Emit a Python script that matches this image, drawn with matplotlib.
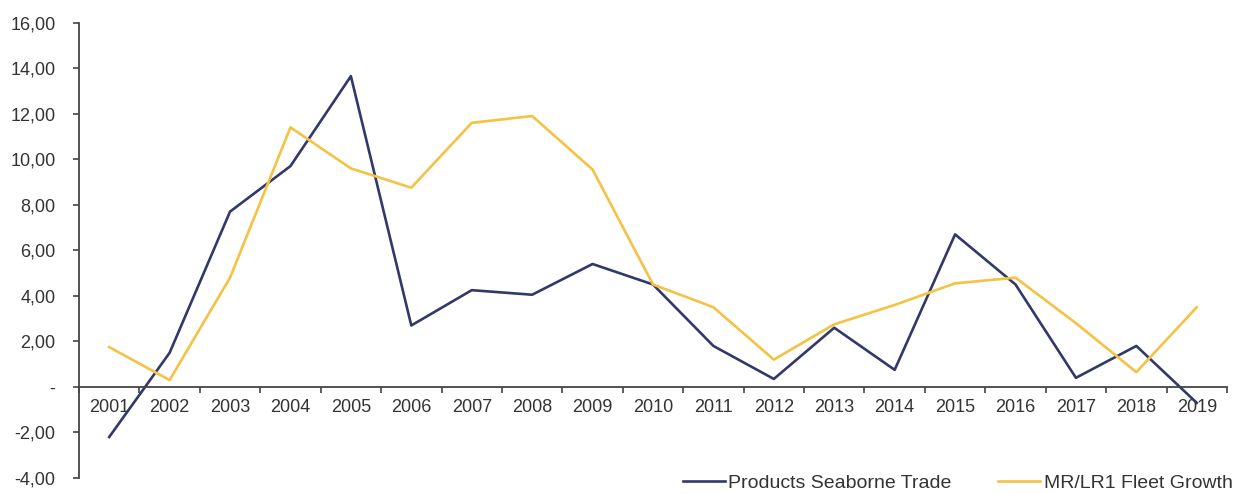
import matplotlib.pyplot as plt
from matplotlib.ticker import FixedLocator, NullFormatter

plt.rcParams['font.family'] = ['Liberation Sans', 'DejaVu Sans']

years = [str(y) for y in range(2001, 2020)]

seaborne_trade = [-2.2, 1.5, 7.7, 9.7, 13.65, 2.7, 4.25, 4.05, 5.4, 4.5,
                  1.8, 0.35, 2.6, 0.75, 6.7, 4.5, 0.4, 1.8, -0.7]
fleet_growth = [1.75, 0.3, 4.8, 11.4, 9.6, 8.75, 11.6, 11.9, 9.55, 4.5,
                3.5, 1.2, 2.75, 3.6, 4.55, 4.8, 2.8, 0.65, 3.5]

navy = '#33386a'
gold = '#f4c244'
axis_col = '#444444'
text_col = '#333333'

fig = plt.figure(figsize=(12.4, 4.94), dpi=100)
ax = fig.add_axes([0.0637, 0.0324, 0.9258, 0.9217])

x = list(range(len(years)))
ax.plot(x, seaborne_trade, color=navy, lw=1.9, label='Products Seaborne Trade')
ax.plot(x, fleet_growth, color=gold, lw=1.9, label='MR/LR1 Fleet Growth')

ax.set_xlim(-0.5, len(years) - 0.5)
ax.set_ylim(-4, 16)

# category axis crosses at zero, ticks between categories
ax.spines['bottom'].set_position(('data', 0))
ax.spines['top'].set_visible(False)
ax.spines['right'].set_visible(False)
for s in ('left', 'bottom'):
    ax.spines[s].set_color(axis_col)
    ax.spines[s].set_linewidth(1.3)

ax.xaxis.set_major_locator(FixedLocator([i - 0.5 for i in range(len(years) + 1)]))
ax.xaxis.set_major_formatter(NullFormatter())
ax.xaxis.set_minor_locator(FixedLocator(x))
ax.set_xticklabels(years, minor=True)
ax.tick_params(axis='x', which='major', direction='out', length=4,
               color=axis_col, width=1.2)
ax.tick_params(axis='x', which='minor', length=0, pad=9,
               labelsize=13, labelcolor=text_col)

yt = list(range(-4, 17, 2))
ax.set_yticks(yt)
ax.set_yticklabels(['-' if v == 0 else f'{v},00' for v in yt])
ax.tick_params(axis='y', direction='out', length=4, color=axis_col, width=1.2,
               labelsize=13, labelcolor=text_col, pad=13)

fig.legend(loc='center right', bbox_to_anchor=(1233 / 1240, 1 - 483 / 494),
           ncol=2, frameon=False, fontsize=14, handlelength=2.15,
           handletextpad=0.2, columnspacing=2.4, borderpad=0,
           borderaxespad=0, labelcolor=text_col)

fig.savefig('out.png', dpi=100)
